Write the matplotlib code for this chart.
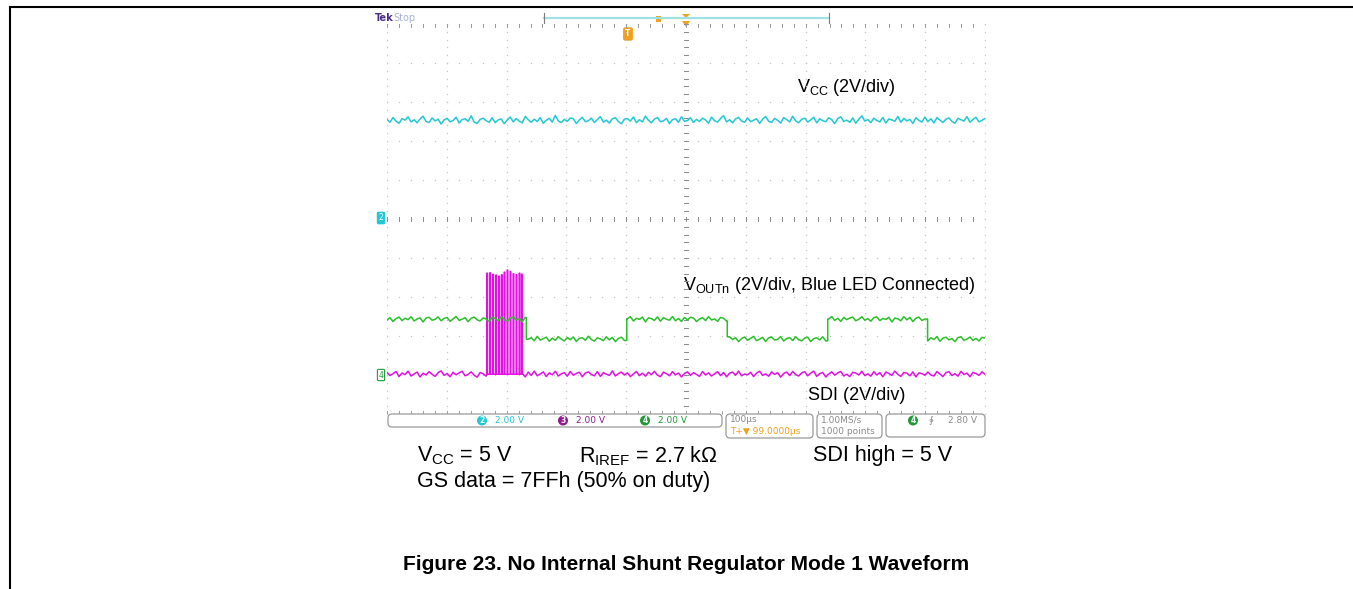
import numpy as np
import matplotlib.pyplot as plt
from matplotlib.patches import FancyBboxPatch, Circle, Polygon, Rectangle
from matplotlib.lines import Line2D

plt.rcParams['font.family'] = ['Liberation Sans', 'DejaVu Sans']
plt.rcParams['mathtext.fontset'] = 'custom'
plt.rcParams['mathtext.rm'] = 'Liberation Sans'
plt.rcParams['mathtext.it'] = 'Liberation Sans:italic'
plt.rcParams['mathtext.bf'] = 'Liberation Sans:bold'

# scope settings
time_per_div = 100          # us/div
volts_per_div = 2.0         # V/div, all channels
ch2_ground_div = 0.0
ch34_ground_div = -4.03

# levels (V)
vcc_level = 5.05
vout_high = 2.92
vout_low = 1.90
sdi_low = 0.10

# VOUTn edges (us), trace starts high
vout_edges_us = [233, 401, 569, 737, 904]

# SDI burst
sdi_pulse_us = [167, 172, 177, 182, 187, 191.5, 196, 201, 206, 211, 216, 221, 225]
sdi_pulse_peak = [5.28, 5.30, 5.22, 5.18, 5.13, 5.20, 5.33, 5.44, 5.36, 5.25, 5.20, 5.28, 5.23]

# trace noise, centivolts, 200 samples over 1000 us
cyan_noise_cV = [
    6, -9, 15, -3, -14, 10, 2, 19, -7, 4, -12, 8, 22, -5, -10, 13, -2, 7, -18, 3,
    11, -6, 0, 17, -13, 5, 9, -4, 24, -8, -15, 6, 12, -1, -9, 14, -11, 3, 8, -16,
    2, 18, -7, 10, -3, -12, 21, 4, -9, 7, -5, 15, -14, 1, 11, -8, 26, -2, -11, 6,
    -4, 13, 9, -15, 3, 16, -6, -1, 12, -10, 5, 20, -8, 2, -13, 9, 14, -5, -17, 7,
    10, -3, 18, -11, 4, -7, 23, 1, -12, 8, 15, -6, -2, 11, -16, 5, 9, -9, 19, -4,
    0, 14, -10, 6, -5, 12, 3, -14, 17, -1, -8, 10, 25, -7, 4, -12, 8, 16, -3, -9,
    13, -6, 2, 9, -15, 7, 20, -4, -10, 11, 1, -13, 15, 5, -7, 22, -2, -11, 6, 12,
    -8, 3, 17, -12, 9, -1, -6, 14, 4, -16, 10, 19, -5, 2, -9, 13, -14, 7, 24, -3,
    5, -11, 12, 0, -7, 16, -13, 8, 3, -4, 21, -9, 11, -2, 6, -15, 14, 1, -8, 18,
    -6, 9, -12, 15, 2, -10, 7, 13, -5, -14, 11, 4, -3, 20, -9, 6, 16, -7, 1, 10]
green_noise_cV = [
    -4, 8, -12, 3, 11, -7, 5, -2, 13, -9, 1, 7, -14, 6, 10, -5, -1, 12, -8, 4,
    9, -11, 2, 14, -6, 0, 8, -13, 5, 11, -3, -9, 7, 1, -12, 10, 4, -7, 13, -2,
    -10, 6, 12, -4, 3, -13, 9, -1, 7, -8, 14, -5, 2, 10, -11, 5, -6, 13, 0, -9,
    8, -3, 11, -12, 4, 7, -6, 15, -2, -10, 6, 1, -8, 12, -4, 9, -13, 3, 10, -7,
    2, 13, -9, 5, -1, 11, -14, 7, 3, -6, 12, -10, 8, 0, -5, 14, -8, 4, -11, 9,
    -3, 10, 6, -12, 1, 8, -7, 13, -4, 2, -11, 9, 5, -9, 12, -2, 7, -13, 3, 11,
    -6, 4, 14, -8, 0, 9, -12, 6, 11, -5, -1, 13, -10, 3, 8, -7, 12, -3, -9, 5,
    10, -13, 2, 7, -4, 12, -9, 1, 14, -6, 5, -11, 9, -2, 6, 11, -8, 0, 13, -5,
    3, -10, 8, 12, -7, 4, -1, 10, -14, 6, 2, -8, 13, -3, 9, -12, 5, 11, -6, 1,
    -9, 7, -2, 13, -11, 5, 10, -4, 3, -13, 8, 12, -6, 0, 11, -7, 4, -10, 9, 6]
magenta_noise_cV = [
    9, -7, 3, 14, -12, 6, -2, 16, -9, 1, 11, -14, 5, -4, 13, 0, -11, 8, 17, -6,
    4, -13, 10, -3, 7, 15, -8, -1, 12, -5, -15, 9, 2, -10, 14, -4, 6, -16, 8, 3,
    -7, 13, -2, -11, 9, 5, -14, 11, -6, 16, -8, 1, 12, -12, 7, -3, 15, -9, 2, 8,
    -10, 14, -5, 4, 10, -13, 6, 12, -1, -8, 13, -11, 8, 0, -6, 17, -9, 3, 11, -4,
    7, -12, 1, 14, -7, 5, -10, 10, -2, 15, -5, -12, 11, 3, -8, 13, -3, 6, -14, 4,
    12, -6, 8, -1, -11, 14, -4, 7, -9, 2, 13, -7, 9, -13, 5, 11, -5, 16, -8, 1,
    -3, 10, -12, 6, 15, -6, 2, -10, 12, -1, 8, -15, 4, 11, -7, 14, -2, -9, 7, 13,
    -8, 5, 16, -11, 3, 9, -14, 1, 12, -5, 7, 14, -9, 0, -12, 10, 6, -4, 15, -7,
    2, -10, 13, -3, 8, -13, 11, 4, -6, 16, -1, -11, 9, 5, -8, 12, -14, 7, 3, -5,
    11, -4, -9, 14, 1, -12, 8, 13, -7, 3, -10, 15, -2, 6, -13, 9, 4, -6, 12, 0]

CYAN = '#22c8d4'
GREEN = '#2cbf2c'
MAGENTA = '#e310e3'
PURPLE = '#8e1c8e'
DKGREEN = '#1f9a35'
ORANGE = '#f0a020'
GRID = '#c4c4c4'

W, H = 1353, 589
fig = plt.figure(figsize=(W / 100, H / 100), dpi=100)

# overlay in pixel coords for frame, labels and status bar
ov = fig.add_axes([0, 0, 1, 1], zorder=0)
ov.set_xlim(0, W)
ov.set_ylim(H, 0)
ov.axis('off')

ov.add_line(Line2D([10, W], [7, 7], color='black', lw=1.5))
ov.add_line(Line2D([10, 10], [7, H], color='black', lw=1.5))

# scope screen
gx0, gx1, gy0, gy1 = 387, 985, 24, 414
ax = fig.add_axes([gx0 / W, 1 - gy1 / H, (gx1 - gx0) / W, (gy1 - gy0) / H], zorder=2)
ax.set_xlim(0, 10 * time_per_div)
ax.set_ylim(-5, 5)
ax.axis('off')
ax.patch.set_alpha(0)

# graticule dots
for d in range(11):
    xv = d * time_per_div
    ys = np.arange(-5, 5.01, 0.2)
    ax.plot(np.full_like(ys, xv), ys, ls='none', marker='s', ms=0.9, color=GRID, mew=0)
for d in range(-5, 6):
    xs = np.arange(0, 1000.1, 20)
    ax.plot(xs, np.full_like(xs, d), ls='none', marker='s', ms=0.9, color=GRID, mew=0)
# center cross and edge ticks
for yy in np.arange(-5, 5.01, 0.2):
    ax.plot([497, 503], [yy, yy], color='#8a8a8a', lw=0.7)
for xx in np.arange(0, 1000.1, 20):
    ax.plot([xx, xx], [-0.06, 0.06], color='#8a8a8a', lw=0.7)
    ax.plot([xx, xx], [4.92, 5.0], color='#9a9a9a', lw=0.7)
    ax.plot([xx, xx], [-5.0, -4.92], color='#9a9a9a', lw=0.7)

t = np.linspace(0, 10 * time_per_div, len(cyan_noise_cV))


def to_div(volts, ground):
    return ground + np.asarray(volts) / volts_per_div


def vout_level(tt):
    n = np.searchsorted(vout_edges_us, tt, side='right')
    return np.where(n % 2 == 0, vout_high, vout_low)


# SDI (ch3)
tm, ym = [], []
done = False
for i, ti in enumerate(t):
    if not done and ti >= sdi_pulse_us[0]:
        for pt, pk in zip(sdi_pulse_us, sdi_pulse_peak):
            tm += [pt, pt, pt + 1.0, pt + 1.0]
            ym += [sdi_low, pk, pk, sdi_low]
        done = True
    if sdi_pulse_us[0] <= ti <= sdi_pulse_us[-1] + 1.0:
        continue
    tm.append(ti)
    ym.append(sdi_low + magenta_noise_cV[i] / 100)
ax.plot(tm, to_div(ym, ch34_ground_div), color=MAGENTA, lw=1.1)

# VOUTn (ch4)
tg, yg = [], []
ei = 0
for i, ti in enumerate(t):
    while ei < len(vout_edges_us) and vout_edges_us[ei] <= ti:
        e = vout_edges_us[ei]
        tg += [e, e]
        yg += [yg[-1], float(vout_level(e)) + green_noise_cV[i] / 100]
        ei += 1
    tg.append(ti)
    yg.append(float(vout_level(ti)) + green_noise_cV[i] / 100)
ax.plot(tg, to_div(yg, ch34_ground_div), color=GREEN, lw=1.1)

# VCC (ch2)
ax.plot(t, to_div(vcc_level + np.array(cyan_noise_cV) / 100, ch2_ground_div), color=CYAN, lw=1.1)

# ground markers
ov.text(381, 218, '2', fontsize=5.5, color='white', ha='center', va='center', family='DejaVu Sans',
        bbox=dict(boxstyle='round,pad=0.15', fc=CYAN, ec=CYAN))
ov.text(381, 375, '4', fontsize=5.5, color=DKGREEN, ha='center', va='center', family='DejaVu Sans',
        bbox=dict(boxstyle='round,pad=0.15', fc='white', ec=DKGREEN, lw=0.8))

# top bar
ov.text(375, 18, 'Tek', fontsize=7, color='#4a2a86', weight='bold', va='center', family='DejaVu Sans')
ov.text(393, 18, 'Stop', fontsize=7, color='#a9b3cf', va='center', family='DejaVu Sans')
ov.add_line(Line2D([544, 829], [18, 18], color='#9fe0e3', lw=1.6))
ov.add_line(Line2D([544, 544], [13, 23], color='#7a7a7a', lw=0.8))
ov.add_line(Line2D([829, 829], [13, 23], color='#7a7a7a', lw=0.8))
ov.add_patch(Rectangle((656, 16), 5, 6, fc=ORANGE, ec='none'))
ov.add_patch(Polygon([[682, 14], [690, 14], [686, 18]], closed=True, fc=ORANGE, ec='none'))
ov.add_patch(Polygon([[682, 21], [690, 21], [686, 27]], closed=True, fc=ORANGE, ec='none'))
ov.text(628, 34, 'T', fontsize=5.5, color='white', ha='center', va='center', weight='bold',
        family='DejaVu Sans', bbox=dict(boxstyle='round,pad=0.2', fc=ORANGE, ec=ORANGE))

# status bar
box_kw = dict(boxstyle='round,pad=0,rounding_size=4', fc='white', ec='#9a9a9a', lw=0.9)
ov.add_patch(FancyBboxPatch((388, 414), 334, 13, **box_kw))
ov.add_patch(FancyBboxPatch((726, 414), 87, 24, **box_kw))
ov.add_patch(FancyBboxPatch((817, 414), 65, 24, **box_kw))
ov.add_patch(FancyBboxPatch((886, 414), 99, 23, **box_kw))
sf = dict(fontsize=6.5, va='center', family='DejaVu Sans')
for cx, num, col in [(482, '2', CYAN), (563, '3', PURPLE), (645, '4', DKGREEN)]:
    ov.add_patch(Circle((cx, 420.5), 5, fc=col, ec='none'))
    ov.text(cx, 420.5, num, color='white', ha='center', weight='bold', **dict(sf, fontsize=5.5))
    ov.text(cx + 13, 420.5, '2.00 V', color=col, **sf)
ov.text(730, 420, '100\u00b5s', color='#8a8a8a', **sf)
ov.text(730, 431, 'T+\u25bc 99.0000\u00b5s', color=ORANGE, **sf)
ov.text(821, 420, '1.00MS/s', color='#8a8a8a', **sf)
ov.text(821, 431, '1000 points', color='#8a8a8a', **sf)
ov.add_patch(Circle((913, 420.5), 5, fc=DKGREEN, ec='none'))
ov.text(913, 420.5, '4', color='white', ha='center', weight='bold', **dict(sf, fontsize=5.5))
ov.text(928, 420.5, '\u2233', color='#8a8a8a', **sf)
ov.text(948, 420.5, '2.80 V', color='#8a8a8a', **sf)

# annotations
ov.text(797, 88, r'V$_{\mathrm{CC}}$ (2V/div)', fontsize=13, va='center')
ov.text(683, 286, r'V$_{\mathrm{OUTn}}$ (2V/div, Blue LED Connected)', fontsize=13, va='center')
ov.text(808, 395, 'SDI (2V/div)', fontsize=13, va='center')

ov.text(417, 456, r'V$_{\mathrm{CC}}$ = 5 V', fontsize=15.5, va='center')
ov.text(579, 456, r'R$_{\mathrm{IREF}}$ = 2.7 k' + '\u03a9', fontsize=15.5, va='center')
ov.text(813, 456, 'SDI high = 5 V', fontsize=15.5, va='center')
ov.text(417, 481, 'GS data = 7FFh (50% on duty)', fontsize=15.5, va='center')

ov.text(686, 564, 'Figure 23. No Internal Shunt Regulator Mode 1 Waveform', fontsize=15,
        weight='bold', ha='center', va='center')

fig.savefig('out.png', dpi=100)
